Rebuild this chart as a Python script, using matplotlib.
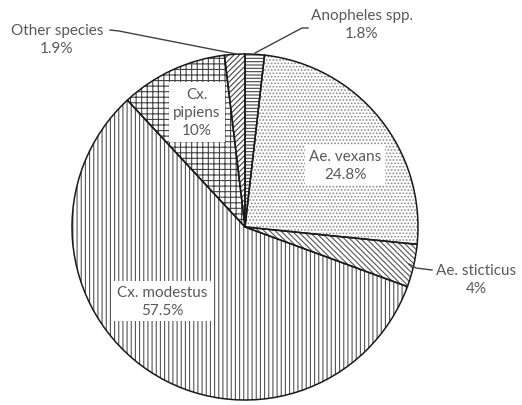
import matplotlib
matplotlib.use("Agg")
import matplotlib.pyplot as plt

species = ["Anopheles spp.", "Ae. vexans", "Ae. sticticus", "Cx. modestus", "Cx. pipiens", "Other species"]
shares = [1.8, 24.8, 4.0, 57.5, 10.0, 1.9]
share_labels = ["1.8%", "24.8%", "4%", "57.5%", "10%", "1.9%"]
hatches = ["-----", ".....", "\\\\\\\\\\\\", "||||", "+++", "//////"]
hatch_colors = ["#444444", "#8a8a8a", "#555555", "#555555", "#444444", "#444444"]

plt.rcParams["font.family"] = ["Lato", "DejaVu Sans"]
plt.rcParams["hatch.linewidth"] = 0.8

W, H = 522, 406
fig = plt.figure(figsize=(W / 100, H / 100), dpi=100)
ax = fig.add_axes([0, 0, 1, 1])

cx, cy, r = 245, H - 228, 173
# hatched fills (hatch colour follows the edge colour, so edges drawn separately)
fills, _ = ax.pie(shares, startangle=90, counterclock=False, center=(cx, cy), radius=r,
                  wedgeprops=dict(facecolor="white", linewidth=0))
for w, h, c in zip(fills, hatches, hatch_colors):
    w.set_hatch(h)
    w.set_edgecolor(c)
    w.set_linewidth(0)
ax.pie(shares, startangle=90, counterclock=False, center=(cx, cy), radius=r,
       wedgeprops=dict(facecolor="none", edgecolor="#1a1a1a", linewidth=1.1))

ax.set_xlim(0, W)
ax.set_ylim(0, H)
ax.set_aspect("equal")
ax.axis("off")

txt = dict(color="#595959", fontsize=11, ha="center", va="center", linespacing=1.4)
box = dict(facecolor="white", edgecolor="none", pad=3)

# label centres in pixel coords (y measured from top)
label_pos = {
    "Anopheles spp.": (362, 25, False),
    "Ae. vexans": (345, 166, True),
    "Ae. sticticus": (476, 280, False),
    "Cx. modestus": (162, 302, True),
    "Cx. pipiens": (197, 113, True),
    "Other species": (57, 40, False),
}
for name, lab in zip(species, share_labels):
    x, y, inside = label_pos[name]
    text = f"{name}\n{lab}"
    if name == "Cx. pipiens":
        text = f"Cx.\npipiens\n{lab}"
    ax.text(x, H - y, text, bbox=box if inside else None, **txt)

# leader lines
leaders = [
    [(255, 54), (302, 29), (308, 29)],
    [(236, 55), (119, 32), (110, 31)],
    [(409, 265), (416, 269), (432, 271)],
]
for pts in leaders:
    ax.plot([p[0] for p in pts], [H - p[1] for p in pts], color="#404040", lw=1.0)

fig.savefig("out.png", dpi=100)
